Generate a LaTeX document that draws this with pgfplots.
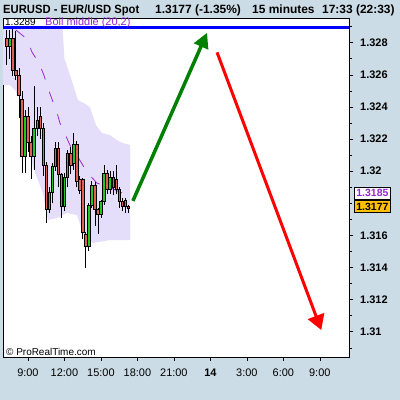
\documentclass[border=0pt]{standalone}
\usepackage{pgfplots}
\pgfplotsset{compat=1.18}
\usepackage{pgfplotstable}
\usepackage{graphicx}
\usepackage{fontspec}
\setmainfont{Liberation Sans}
\usetikzlibrary{arrows.meta}
\definecolor{bgc}{RGB}{204,220,230}
\definecolor{band}{RGB}{229,222,250}
\definecolor{bollp}{RGB}{150,40,210}
\definecolor{upg}{RGB}{34,200,34}
\definecolor{dnr}{RGB}{224,96,88}
\definecolor{arrg}{RGB}{0,128,0}
\definecolor{boxo}{RGB}{255,192,0}

\pgfplotstableread{
t o h l c
7.25 1.3283 1.3288 1.3266 1.3278
7.50 1.3278 1.3288 1.3270 1.3283
7.75 1.3283 1.3289 1.3259 1.3263
8.00 1.3263 1.3287 1.3257 1.3260
8.25 1.3260 1.3264 1.3233 1.3247
8.50 1.3245 1.3250 1.3199 1.3209
8.75 1.3209 1.3238 1.3199 1.3234
9.00 1.3234 1.3240 1.3212 1.3218
9.25 1.3218 1.3222 1.3195 1.3209
9.50 1.3209 1.3253 1.3201 1.3227
9.75 1.3227 1.3240 1.3222 1.3232
10.00 1.3234 1.3240 1.3220 1.3227
10.25 1.3227 1.3230 1.3197 1.3204
10.50 1.3204 1.3206 1.3168 1.3176
10.75 1.3176 1.3190 1.3174 1.3187
11.00 1.3187 1.3205 1.3180 1.3203
11.25 1.3203 1.3218 1.3200 1.3214
11.50 1.3214 1.3218 1.3190 1.3198
11.75 1.3198 1.3199 1.3171 1.3178
12.00 1.3178 1.3199 1.3175 1.3196
12.25 1.3196 1.3213 1.3190 1.3211
12.50 1.3211 1.3215 1.3198 1.3204
12.75 1.3205 1.3224 1.3201 1.3217
13.00 1.3217 1.3219 1.3190 1.3194
13.25 1.3195 1.3197 1.3186 1.3188
13.50 1.3195 1.3196 1.3158 1.3162
13.75 1.3161 1.3162 1.3140 1.3153
14.00 1.3153 1.3180 1.3150 1.3179
14.25 1.3179 1.3194 1.3177 1.3191
14.50 1.3191 1.3193 1.3166 1.3176
14.75 1.3176 1.3177 1.3161 1.3173
15.00 1.3173 1.3182 1.3171 1.3181
15.25 1.3181 1.3204 1.3179 1.3199
15.50 1.3199 1.3201 1.3186 1.3189
15.75 1.3189 1.3200 1.3186 1.3196
16.00 1.3196 1.3200 1.3185 1.3190
16.25 1.3195 1.3204 1.3186 1.3189
16.50 1.3189 1.3190 1.3177 1.3181
16.75 1.3181 1.3183 1.3175 1.3178
17.00 1.3182 1.3183 1.3174 1.3178
17.25 1.3178 1.3179 1.3174 1.3177
}\candles

\begin{document}
\begin{tikzpicture}
\fill[bgc] (0,0) rectangle (400bp,400bp);
\begin{axis}[
  at={(3bp,43bp)}, anchor=south west,
  width=346bp, height=339bp, scale only axis,
  xmin=6.95, xmax=35.4, ymin=1.30843, ymax=1.32954,
  axis background/.style={fill=white},
  axis line style={black, line width=0.8bp},
  xtick={9,12,15,18,21,24,27,30,33},
  xticklabels={9:00,12:00,15:00,18:00,21:00,\textbf{14},3:00,6:00,9:00},
  ytick={1.31,1.312,1.314,1.316,1.32,1.322,1.324,1.326,1.328},
  minor ytick={1.309,1.311,1.313,1.315,1.317,1.318,1.319,1.321,1.323,1.325,1.327,1.329},
  scaled y ticks=false,
  tick align=outside, xtick pos=left, ytick pos=right, yticklabel pos=right,
  major tick length=4bp, minor tick length=3bp,
  tick style={black, line width=0.6bp},
  yticklabel style={/pgf/number format/fixed, /pgf/number format/precision=3,
    /pgf/number format/assume math mode=true,
    font=\bfseries\fontsize{11}{11}\selectfont, anchor=west, inner sep=0pt, xshift=7bp},
  xticklabel style={font=\fontsize{11}{11}\selectfont, anchor=north, inner sep=0pt, yshift=-8bp},
]
% Bollinger band
\addplot[fill=band, draw=none, forget plot] coordinates {
 (6.95,1.3289) (11.85,1.3289) (12.0,1.3270) (12.5,1.3259) (13.11,1.32443) (13.6,1.32424)
 (14.09,1.3240) (14.59,1.32287) (15.08,1.32238) (15.74,1.32225) (16.31,1.32194)
 (16.81,1.32175) (17.4,1.32163)
 (17.4,1.31571) (15.74,1.31571) (14.34,1.31553) (13.52,1.31615) (13.03,1.31727)
 (12.2,1.3174) (11.38,1.31708) (10.64,1.31696) (10.23,1.31864) (9.82,1.31945)
 (9.41,1.32026) (9.16,1.32132) (8.75,1.32319) (8.34,1.32456) (7.93,1.32505)
 (7.52,1.32537) (6.95,1.32537)} -- cycle;
% Bollinger middle
\addplot[bollp, line width=0.8bp, dash pattern=on 11bp off 13bp, forget plot] coordinates {
 (8.0,1.3288) (8.92,1.32823) (9.33,1.32742) (9.90,1.32674) (10.31,1.32599) (10.64,1.32518)
 (10.97,1.3245) (11.38,1.32368) (11.63,1.323) (12.12,1.32219) (12.53,1.3215) (13.11,1.32088)
 (13.85,1.31995) (14.67,1.31926) (15.66,1.31901) (16.56,1.3187) (17.25,1.3185)};
% candles
\pgfplotsinvokeforeach{0,...,40}{
  \pgfplotstablegetelem{#1}{t}\of\candles \edef\ct{\pgfplotsretval}
  \pgfplotstablegetelem{#1}{o}\of\candles \edef\co{\pgfplotsretval}
  \pgfplotstablegetelem{#1}{h}\of\candles \edef\ch{\pgfplotsretval}
  \pgfplotstablegetelem{#1}{l}\of\candles \edef\cl{\pgfplotsretval}
  \pgfplotstablegetelem{#1}{c}\of\candles \edef\cc{\pgfplotsretval}
  \pgfmathsetmacro\xl{\ct-0.105}
  \pgfmathsetmacro\xr{\ct+0.105}
  \pgfmathparse{\cc>=\co}
  \ifdim\pgfmathresult pt>0.5pt \def\col{upg}\else\def\col{dnr}\fi
  \edef\temp{\noexpand\addplot[black, line width=0.6bp, forget plot] coordinates {(\ct,\cl) (\ct,\ch)};
    \noexpand\addplot[fill=\col, draw=black, line width=0.5bp, forget plot] coordinates {(\xl,\co) (\xr,\co) (\xr,\cc) (\xl,\cc)} -- cycle;}
  \temp
}
% level line
\addplot[blue, line width=3bp, forget plot] coordinates {(6.95,1.32895) (35.4,1.32895)};
% arrows
\addplot[arrg, line width=3.5bp, -{Triangle[length=15bp,width=15bp]}, forget plot] coordinates {(17.63,1.31815) (23.73,1.32862)};
\addplot[red, line width=3bp, -{Triangle[length=15bp,width=17bp]}, forget plot] coordinates {(24.55,1.3274) (33.12,1.31011)};
\end{axis}
% title
\node[anchor=base west, inner sep=0pt, font=\bfseries\fontsize{12}{12}\selectfont] at (3bp,386.7bp) {\scalebox{0.94}[1]{EURUSD - EUR/USD Spot}};
\node[anchor=base west, inner sep=0pt, font=\bfseries\fontsize{12}{12}\selectfont] at (155bp,386.7bp) {1.3177 (-1.35\%)};
\node[anchor=base west, inner sep=0pt, font=\bfseries\fontsize{12}{12}\selectfont] at (252bp,386.7bp) {15 minutes};
\node[anchor=base west, inner sep=0pt, font=\bfseries\fontsize{12}{12}\selectfont] at (322bp,386.7bp) {17:33 (22:33)};
% top strip labels
\node[anchor=west, inner sep=0pt, font=\fontsize{10}{10}\selectfont] at (5bp,378bp) {1.3289};
\node[anchor=west, inner sep=0pt, text=bollp, font=\fontsize{11}{11}\selectfont] at (45bp,377.5bp) {Boll middle (20,2)};
% copyright
\node[anchor=west, inner sep=0pt, font=\fontsize{10}{10}\selectfont] at (6bp,48.3bp) {© ProRealTime.com};
% right value boxes
\node[draw=black, fill=white, text=bollp, line width=0.8bp, font=\bfseries\fontsize{10.5}{10.5}\selectfont,
  minimum width=36bp, minimum height=11.5bp, inner sep=0pt, anchor=south west] at (354bp,200.5bp) {1.3185};
\node[draw=black, fill=boxo, text=black, line width=0.8bp, font=\bfseries\fontsize{10.5}{10.5}\selectfont,
  minimum width=36bp, minimum height=11.5bp, inner sep=0pt, anchor=north west] at (354bp,199.5bp) {1.3177};
\end{tikzpicture}
\end{document}
